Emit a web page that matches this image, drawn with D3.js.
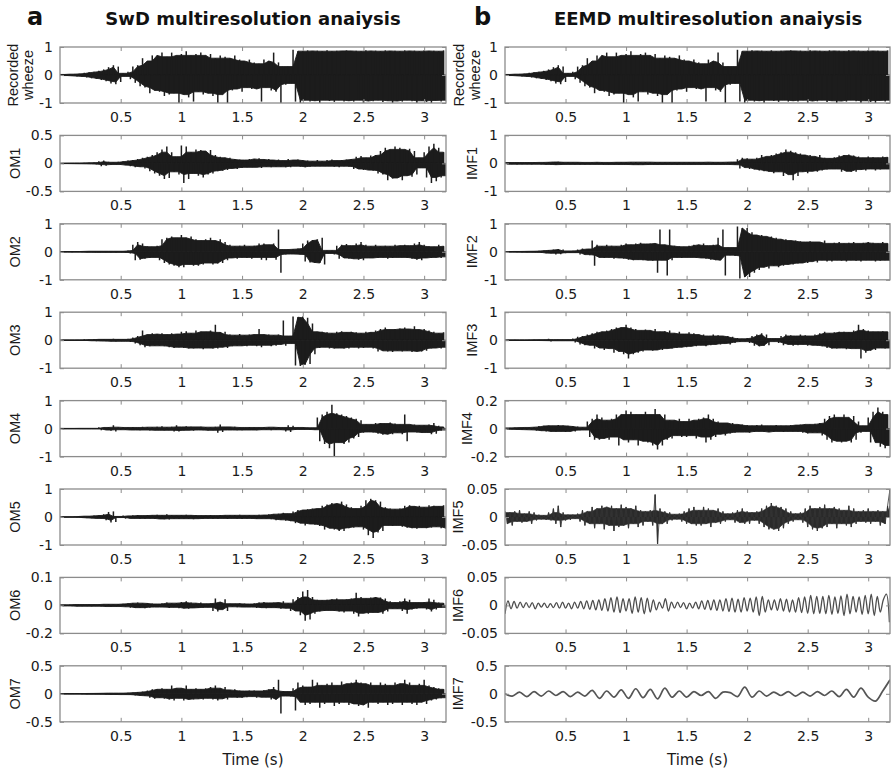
<!DOCTYPE html>
<html>
<head>
<meta charset="utf-8">
<script src="https://cdn.jsdelivr.net/npm/d3@7"></script>
<style>
  body { margin: 0; background: #fff; }
  svg { display: block; }
</style>
</head>
<body>
<svg id="chart" width="891" height="770"></svg>
<script>
// ---- time axis ----
const timeMax = 3.18;
const timeTicks = [0.5, 1, 1.5, 2, 2.5, 3];
const timeTickLabels = ["0.5", "1", "1.5", "2", "2.5", "3"];

// ---- signals: alternating peak / trough samples, one every `step` seconds from t = 0 ----
const recorded = [
  .02,-.02,.03,-.03,.03,-.04,.04,-.05,.05,-.06,
  .08,-.09,.1,-.12,.12,-.14,.15,-.18,.2,-.22,
  .28,-.3,.35,-.33,.3,-.25,.06,-.05,.12,-.15,
  .3,-.28,.35,-.4,.6,-.45,.5,-.65,.7,-.55,
  .7,-.6,.8,-.75,.65,-.7,.8,-.65,.7,-1,
  .75,-.7,.85,-.8,.7,-.95,.75,-.6,.8,-.7,
  .7,-.65,.75,-.75,.6,-1,.7,-.7,.65,-1,
  .6,-.55,.7,-.5,.55,-.6,.5,-.45,.55,-.5,
  .45,-.5,.4,-.95,.55,-.45,.5,-.55,.8,-.6,
  .45,-1,.3,-.35,.3,-.3,.9,-.95,.85,-1,
  .85,-.9,.88,-.95,.86,-.92,.87,-1,.85,-.9,
  .88,-.93,.85,-.96,.87,-.9,.86,-.95,.88,-.92,
  .86,-.95,.87,-.9,.85,-1,.88,-.93,.86,-.94,
  .87,-.9,.85,-.96,.88,-.92,.86,-1,.87,-.93,
  .85,-.95,.88,-.9,.86,-.94,.87,-1,.85,-.92,
  .88,-.96,.86,-1,.87,-.91,.85,-.95,.88,-.9
];
const om1 = [
  .004,-.004,.005,-.005,.006,-.006,.006,-.007,.008,-.008,
  .01,-.01,.012,-.012,.015,-.02,.04,-.05,.05,-.04,
  .03,-.025,.02,-.02,.03,-.03,.04,-.035,.05,-.05,
  .06,-.07,.08,-.06,.1,-.09,.12,-.14,.15,-.18,
  .2,-.22,.25,-.28,.3,-.26,.2,-.15,.12,-.2,
  .32,-.35,.3,-.28,.2,-.18,.25,-.22,.24,-.25,
  .22,-.2,.24,-.18,.15,-.14,.12,-.13,.1,-.12,
  .1,-.09,.08,-.1,.07,-.08,.06,-.07,.08,-.07,
  .08,-.07,.09,-.08,.07,-.06,.08,-.07,.06,-.06,
  .07,-.06,.05,-.07,.08,-.07,.06,-.05,.07,-.06,
  .06,-.07,.05,-.06,.04,-.05,.06,-.05,.04,-.05,
  .06,-.05,.07,-.06,.05,-.07,.06,-.05,.07,-.06,
  .08,-.1,.12,-.1,.13,-.12,.1,-.12,.14,-.13,
  .15,-.18,.22,-.2,.28,-.3,.25,-.27,.3,-.26,
  .28,-.3,.25,-.22,.26,-.24,.22,-.2,.1,-.08,
  .2,-.25,.3,-.35,.35,-.32,.28,-.25,.2,-.22
];
const om2 = [
  .008,-.008,.01,-.01,.012,-.012,.01,-.01,.015,-.015,
  .02,-.015,.02,-.02,.025,-.02,.02,-.02,.025,-.02,
  .02,-.02,.025,-.025,.02,-.02,.03,-.03,.05,-.06,
  .25,-.3,.35,-.28,.3,-.25,.2,-.22,.18,-.2,
  .22,-.3,.45,-.4,.5,-.45,.55,-.5,.5,-.55,
  .6,-.55,.5,-.45,.55,-.5,.45,-.5,.4,-.45,
  .45,-.4,.5,-.45,.4,-.42,.45,-.4,.35,-.3,
  .25,-.22,.2,-.25,.22,-.2,.25,-.22,.2,-.25,
  .22,-.2,.3,-.28,.3,-.3,.25,-.2,.3,-.28,
  .8,-.75,.08,-.1,.09,-.08,.1,-.09,.12,-.1,
  .3,-.35,.4,-.38,.42,-.4,.45,-.4,.5,-.45,
  .05,-.06,.05,-.1,.22,-.25,.25,-.22,.28,-.25,
  .22,-.25,.3,-.28,.35,-.3,.25,-.22,.2,-.22,
  .25,-.22,.2,-.2,.22,-.25,.2,-.22,.25,-.2,
  .22,-.2,.25,-.22,.22,-.25,.3,-.28,.35,-.3,
  .25,-.22,.2,-.22,.18,-.2,.25,-.22,.2,-.18
];
const om3 = [
  .005,-.005,.005,-.006,.006,-.006,.008,-.008,.01,-.01,
  .03,-.03,.02,-.02,.04,-.04,.03,-.03,.04,-.04,
  .03,-.04,.05,-.05,.04,-.04,.03,-.04,.05,-.06,
  .1,-.12,.15,-.18,.35,-.25,.2,-.22,.25,-.2,
  .22,-.2,.25,-.22,.2,-.25,.25,-.28,.22,-.25,
  .3,-.28,.32,-.3,.25,-.3,.35,-.28,.3,-.32,
  .3,-.28,.35,-.3,.55,-.3,.28,-.25,.3,-.28,
  .2,-.22,.18,-.2,.22,-.2,.18,-.22,.2,-.18,
  .2,-.22,.4,-.25,.2,-.18,.2,-.22,.18,-.2,
  .2,-.15,.7,-.2,.15,-.12,.85,-.9,.82,-.92,
  .85,-.88,.8,-.85,.6,-.5,.3,-.28,.3,-.25,
  .28,-.3,.25,-.3,.3,-.28,.32,-.3,.28,-.3,
  .3,-.25,.28,-.3,.25,-.28,.3,-.25,.28,-.3,
  .35,-.4,.4,-.38,.45,-.4,.38,-.42,.4,-.38,
  .42,-.4,.45,-.38,.4,-.42,.5,-.4,.38,-.4,
  .4,-.38,.35,-.3,.3,-.28,.25,-.3,.28,-.25
];
const om4 = [
  .01,-.01,.01,-.01,.008,-.008,.01,-.01,.01,-.01,
  .01,-.01,.01,-.01,.01,-.01,.05,-.06,.04,-.05,
  .06,-.08,.12,-.1,.05,-.04,.06,-.05,.04,-.05,
  .06,-.05,.04,-.06,.07,-.05,.06,-.07,.05,-.06,
  .07,-.06,.08,-.07,.05,-.06,.07,-.1,.12,-.1,
  .06,-.07,.08,-.06,.07,-.08,.06,-.05,.07,-.06,
  .06,-.07,.05,-.06,.07,-.15,.15,-.12,.06,-.05,
  .06,-.05,.07,-.06,.05,-.06,.04,-.05,.06,-.05,
  .05,-.06,.04,-.05,.06,-.04,.05,-.06,.05,-.04,
  .06,-.05,.04,-.1,.12,-.12,.1,-.05,.04,-.03,
  .04,-.03,.04,-.04,.03,-.04,.4,-.45,.5,-.55,
  .6,-.7,.85,-1,.55,-.5,.5,-.55,.45,-.5,
  .4,-.35,.35,-.3,.3,-.15,.15,-.12,.15,-.14,
  .2,-.18,.2,-.22,.18,-.2,.22,-.2,.18,-.15,
  .15,-.2,.5,-.45,.15,-.12,.15,-.14,.12,-.15,
  .12,-.14,.15,-.2,.2,-.18,.1,-.08,.06,-.05
];
const om5 = [
  .002,-.002,.003,-.003,.003,-.003,.02,-.02,.03,-.03,
  .03,-.04,.04,-.05,.05,-.05,.06,-.06,.1,-.12,
  .18,-.2,.2,-.18,.02,-.02,.05,-.06,.04,-.05,
  .06,-.05,.07,-.06,.05,-.06,.07,-.05,.06,-.07,
  .08,-.07,.06,-.08,.1,-.09,.07,-.06,.06,-.07,
  .07,-.06,.08,-.07,.06,-.08,.07,-.06,.05,-.06,
  .06,-.05,.07,-.06,.05,-.06,.07,-.05,.06,-.07,
  .06,-.05,.07,-.06,.08,-.07,.06,-.05,.07,-.06,
  .06,-.07,.08,-.06,.07,-.06,.1,-.08,.1,-.12,
  .12,-.1,.15,-.13,.12,-.15,.2,-.22,.25,-.22,
  .25,-.3,.28,-.25,.3,-.28,.3,-.32,.4,-.45,
  .45,-.4,.5,-.45,.48,-.5,.55,-.5,.45,-.4,
  .35,-.38,.3,-.35,.4,-.45,.6,-.65,.65,-.75,
  .6,-.55,.55,-.5,.35,-.3,.3,-.32,.28,-.3,
  .3,-.35,.4,-.38,.42,-.4,.38,-.42,.4,-.38,
  .35,-.4,.42,-.38,.4,-.35,.38,-.4,.42,-.4
];
const om6 = [
  .002,-.002,.002,-.002,.003,-.003,.003,-.003,.003,-.003,
  .003,-.003,.004,-.004,.003,-.003,.004,-.004,.004,-.004,
  .005,-.005,.004,-.004,.005,-.005,.006,-.005,.008,-.008,
  .009,-.008,.01,-.009,.008,-.01,.009,-.008,.007,-.006,
  .005,-.006,.008,-.007,.01,-.009,.008,-.007,.009,-.01,
  .012,-.01,.015,-.012,.01,-.009,.008,-.009,.01,-.008,
  .006,-.007,.008,-.02,.025,-.022,.012,-.015,.022,-.02,
  .006,-.005,.006,-.007,.008,-.006,.007,-.006,.005,-.006,
  .008,-.009,.01,-.008,.012,-.01,.009,-.008,.01,-.009,
  .01,-.012,.015,-.01,.008,-.02,.022,-.02,.03,-.035,
  .05,-.055,.055,-.05,.03,-.03,.02,-.022,.018,-.02,
  .02,-.018,.022,-.02,.025,-.022,.02,-.025,.022,-.02,
  .025,-.03,.045,-.04,.03,-.028,.025,-.03,.028,-.025,
  .03,-.025,.028,-.03,.025,-.022,.015,-.012,.01,-.012,
  .015,-.02,.025,-.03,.02,-.015,.01,-.012,.01,-.009,
  .012,-.015,.025,-.022,.02,-.015,.01,-.008,.008,-.007
];
const om7 = [
  .003,-.003,.003,-.004,.004,-.004,.005,-.005,.005,-.006,
  .006,-.006,.007,-.007,.008,-.008,.01,-.01,.012,-.012,
  .012,-.012,.015,-.015,.012,-.014,.015,-.015,.02,-.02,
  .025,-.03,.03,-.035,.04,-.04,.06,-.07,.08,-.09,
  .08,-.07,.1,-.09,.08,-.1,.15,-.12,.1,-.08,
  .1,-.12,.15,-.1,.08,-.1,.1,-.09,.08,-.1,
  .1,-.08,.12,-.1,.15,-.12,.1,-.09,.12,-.1,
  .07,-.06,.08,-.07,.06,-.07,.05,-.06,.06,-.05,
  .06,-.07,.05,-.06,.07,-.06,.08,-.1,.12,-.1,
  .25,-.35,.05,-.04,.04,-.05,.1,-.3,.2,-.15,
  .15,-.2,.12,-.18,.25,-.15,.2,-.25,.15,-.18,
  .18,-.15,.2,-.22,.15,-.18,.22,-.15,.18,-.2,
  .2,-.18,.25,-.22,.2,-.2,.18,-.25,.2,-.15,
  .15,-.18,.2,-.15,.18,-.2,.15,-.18,.2,-.15,
  .18,-.2,.25,-.15,.2,-.18,.15,-.2,.18,-.15,
  .25,-.18,.15,-.12,.12,-.1,.1,-.08,.08,-.07
];
const imf1 = [
  .03,-.03,.035,-.03,.03,-.035,.03,-.03,.035,-.03,
  .03,-.035,.04,-.03,.035,-.04,.04,-.035,.05,-.045,
  .05,-.055,.06,-.05,.05,-.04,.04,-.035,.04,-.04,
  .04,-.035,.04,-.04,.035,-.04,.04,-.035,.04,-.04,
  .04,-.04,.035,-.04,.045,-.04,.04,-.045,.04,-.04,
  .045,-.05,.05,-.045,.05,-.05,.045,-.05,.05,-.045,
  .045,-.04,.05,-.045,.04,-.05,.045,-.04,.045,-.04,
  .04,-.045,.04,-.04,.045,-.04,.04,-.045,.04,-.04,
  .04,-.045,.05,-.04,.045,-.04,.05,-.045,.04,-.05,
  .045,-.04,.05,-.045,.05,-.05,.15,-.18,.2,-.15,
  .18,-.2,.15,-.22,.2,-.25,.3,-.28,.25,-.3,
  .3,-.35,.35,-.3,.4,-.45,.5,-.4,.45,-.6,
  .4,-.45,.35,-.3,.3,-.35,.3,-.28,.25,-.3,
  .3,-.25,.2,-.22,.18,-.2,.22,-.2,.28,-.3,
  .3,-.28,.32,-.3,.28,-.3,.25,-.22,.2,-.25,
  .25,-.2,.22,-.25,.2,-.22,.25,-.2,.22,-.2
];
const imf2 = [
  .01,-.01,.012,-.01,.012,-.012,.015,-.015,.018,-.015,
  .02,-.02,.025,-.02,.04,-.045,.05,-.05,.06,-.05,
  .08,-.1,.1,-.09,.08,-.05,.03,-.03,.04,-.03,
  .08,-.1,.12,-.1,.1,-.12,.4,-.5,.25,-.2,
  .2,-.22,.25,-.2,.22,-.25,.2,-.22,.25,-.25,
  .3,-.28,.25,-.3,.3,-.28,.32,-.3,.28,-.3,
  .3,-.32,.3,-.75,.8,-.3,.25,-.85,.8,-.3,
  .22,-.2,.2,-.22,.18,-.2,.22,-.2,.25,-.22,
  .25,-.22,.3,-.25,.22,-.28,.25,-.3,.5,-.3,
  .8,-.85,.15,-.12,.15,-.15,.9,-.95,.85,-.9,
  .85,-.9,.7,-.75,.6,-.65,.6,-.55,.55,-.6,
  .55,-.5,.5,-.55,.45,-.5,.45,-.45,.4,-.45,
  .4,-.42,.38,-.4,.35,-.4,.38,-.35,.35,-.38,
  .35,-.3,.4,-.35,.3,-.35,.32,-.3,.35,-.32,
  .3,-.35,.32,-.3,.35,-.32,.3,-.35,.32,-.3,
  .35,-.3,.32,-.35,.3,-.32,.35,-.3,.3,-.32
];
const imf3 = [
  .01,-.01,.01,-.01,.012,-.01,.01,-.012,.01,-.01,
  .012,-.01,.015,-.012,.015,-.015,.02,-.018,.05,-.05,
  .02,-.02,.025,-.02,.02,-.025,.02,-.02,.06,-.08,
  .12,-.15,.15,-.18,.2,-.18,.25,-.3,.3,-.28,
  .3,-.35,.35,-.3,.4,-.45,.45,-.4,.45,-.5,
  .55,-.65,.45,-.5,.4,-.45,.35,-.4,.38,-.35,
  .35,-.38,.4,-.35,.3,-.35,.32,-.3,.35,-.3,
  .25,-.28,.3,-.25,.22,-.25,.28,-.22,.25,-.22,
  .2,-.18,.2,-.22,.15,-.18,.2,-.15,.18,-.15,
  .15,-.12,.15,-.15,.12,-.1,.08,-.06,.05,-.05,
  .08,-.1,.15,-.2,.2,-.22,.25,-.2,.2,-.18,
  .06,-.05,.06,-.1,.15,-.18,.2,-.15,.18,-.2,
  .15,-.18,.2,-.15,.18,-.2,.15,-.18,.2,-.2,
  .25,-.22,.3,-.28,.25,-.3,.28,-.3,.3,-.28,
  .3,-.32,.28,-.3,.35,-.3,.55,-.65,.4,-.45,
  .35,-.38,.3,-.35,.3,-.28,.32,-.3,.3,-.28
];
const imf4 = [
  .005,-.005,.006,-.006,.007,-.007,.008,-.008,.008,-.009,
  .01,-.01,.012,-.015,.018,-.015,.02,-.02,.022,-.02,
  .02,-.022,.025,-.02,.022,-.025,.02,-.02,.018,-.02,
  .015,-.012,.01,-.01,.05,-.06,.07,-.08,.1,-.08,
  .08,-.07,.06,-.08,.07,-.06,.1,-.12,.1,-.08,
  .13,-.1,.12,-.08,.1,-.12,.1,-.09,.12,-.1,
  .1,-.12,.14,-.15,.1,-.12,.1,-.08,.06,-.07,
  .06,-.05,.07,-.06,.05,-.06,.07,-.05,.06,-.07,
  .07,-.06,.08,-.1,.1,-.08,.07,-.06,.05,-.04,
  .04,-.05,.04,-.035,.04,-.03,.03,-.025,.03,-.025,
  .025,-.03,.02,-.025,.025,-.02,.03,-.025,.02,-.025,
  .02,-.025,.025,-.02,.02,-.025,.02,-.02,.025,-.02,
  .025,-.02,.03,-.03,.03,-.035,.03,-.03,.035,-.03,
  .04,-.05,.07,-.08,.09,-.1,.1,-.09,.08,-.1,
  .1,-.09,.08,-.1,.09,-.08,.05,-.03,.02,-.02,
  .08,-.1,.12,-.1,.15,-.13,.12,-.14,.1,-.12
];
const imf5 = [
  .01,-.012,.008,-.015,.01,-.008,.012,-.01,.006,-.008,
  .01,-.012,.008,-.006,.004,-.004,.003,-.005,.008,-.006,
  .015,-.012,.02,-.018,.008,-.006,.004,-.005,.004,-.003,
  .006,-.008,.012,-.015,.01,-.012,.018,-.02,.015,-.012,
  .02,-.022,.018,-.015,.02,-.025,.015,-.018,.022,-.015,
  .018,-.02,.015,-.012,.02,-.018,.012,-.015,.01,-.008,
  .012,-.015,.04,-.048,.015,-.012,.01,-.012,.008,-.006,
  .005,-.004,.006,-.008,.01,-.012,.015,-.012,.018,-.015,
  .012,-.015,.018,-.012,.015,-.018,.012,-.01,.015,-.012,
  .01,-.008,.006,-.005,.008,-.01,.012,-.01,.015,-.012,
  .01,-.012,.008,-.006,.01,-.012,.015,-.018,.02,-.022,
  .025,-.022,.02,-.025,.018,-.02,.015,-.012,.01,-.008,
  .006,-.005,.008,-.01,.015,-.018,.02,-.022,.015,-.025,
  .018,-.02,.022,-.018,.015,-.012,.018,-.02,.015,-.012,
  .012,-.015,.02,-.018,.015,-.012,.01,-.008,.012,-.01,
  .015,-.012,.01,-.008,.012,-.015,.01,-.012,.02,.05
];
const imf6 = [
  -.015,.008,-.006,.007,-.005,.006,-.004,.005,
  -.004,.005,-.006,.004,-.003,.004,-.004,.003,
  -.004,.005,-.005,.006,-.005,.004,-.006,.006,
  -.005,.007,-.006,.008,-.007,.009,-.008,.01,
  -.009,.012,-.01,.014,-.012,.015,-.013,.012,
  -.01,.012,-.014,.015,-.012,.014,-.015,.013,
  -.012,.01,-.008,.006,-.005,.012,-.01,.006,
  -.005,.006,-.004,.005,-.006,.004,-.005,.006,
  -.006,.008,-.007,.009,-.008,.01,-.009,.01,
  -.01,.012,-.011,.013,-.012,.011,-.012,.014,
  -.01,.013,-.012,.015,-.018,.016,-.012,.01,
  -.008,.01,-.009,.012,-.01,.011,-.012,.01,
  -.012,.014,-.013,.015,-.014,.018,-.015,.016,
  -.014,.016,-.015,.018,-.016,.015,-.014,.017,
  -.018,.02,-.015,.016,-.012,.015,-.016,.018,
  -.015,.02,-.018,.016,-.012,.01,.02,-.03
];
const imf7 = [
  0,-.04,.03,-.05,.04,-.04,.05,-.03,.04,-.05,
  .03,-.04,.06,-.08,.05,-.06,.07,-.08,.09,-.07,
  .08,-.09,.1,-.06,.05,-.06,.04,-.03,.04,-.08,
  .03,.02,-.05,.12,-.06,.05,-.04,.03,-.03,.04,
  -.04,.03,-.04,.04,-.03,.05,-.05,.08,-.06,.1,
  -.06,-.13,.05,.25
];

// ---- panel definitions ----
const leftSeries = [recorded, om1, om2, om3, om4, om5, om6, om7];
const leftNames = [["Recorded", "wheeze"], ["OM1"], ["OM2"], ["OM3"], ["OM4"], ["OM5"], ["OM6"], ["OM7"]];
const leftLimits = [1, 0.5, 1, 1, 1, 1, 0.1, 0.5];
const leftTickLabels = [
  ["1", "0", "-1"], ["0.5", "0", "-0.5"], ["1", "0", "-1"], ["1", "0", "-1"],
  ["1", "0", "-1"], ["1", "0", "-1"], ["0.1", "0", "-0.2"], ["0.5", "0", "-0.5"]
];
const leftSteps = [0.02, 0.02, 0.02, 0.02, 0.02, 0.02, 0.02, 0.02];

const rightSeries = [recorded, imf1, imf2, imf3, imf4, imf5, imf6, imf7];
const rightNames = [["Recorded", "wheeze"], ["IMF1"], ["IMF2"], ["IMF3"], ["IMF4"], ["IMF5"], ["IMF6"], ["IMF7"]];
const rightLimits = [1, 1, 1, 1, 0.2, 0.05, 0.05, 0.5];
const rightTickLabels = [
  ["1", "0", "-1"], ["1", "0", "-1"], ["1", "0", "-1"], ["1", "0", "-1"],
  ["0.2", "0", "-0.2"], ["0.05", "0", "-0.05"], ["0.05", "0", "-0.05"], ["0.5", "0", "-0.5"]
];
const rightSteps = [0.02, 0.02, 0.02, 0.02, 0.02, 0.02, 0.025, 0.06];

const titles = ["SwD multiresolution anaiysis", "EEMD multiresolution anaiysis"];
const panelLetters = ["a", "b"];
const xAxisTitle = "Time (s)";

// ---- layout ----
const layout = [
  { x0: 60, x1: 446, titleX: 253, letterX: 27, labelX: [[13, 28], 15, 15, 15, 15, 15, 15, 15] },
  { x0: 505, x1: 890, titleX: 708, letterX: 474, labelX: [[459, 475], 472, 472, 472, 467, 458, 458, 458] }
];
const rowTop0 = 47, rowGap = 88.4, panelH = 56;

// Dense oscillations: a solid core (the lowest of each peak and its neighbours on the same side)
// with every individual peak / trough drawn as a thin spike on top of it.
const denseStyle = { kind: "dense", fill: "#1c1c1c", spikeColor: "#1c1c1c", spike: 1.5, edge: 0.9, reach: 1 };
const rightStyles = [denseStyle, denseStyle, denseStyle, denseStyle, denseStyle,
  { kind: "dense", fill: "#2a2a2a", spikeColor: "#333", spike: 1.2, edge: 0.6, reach: 1, trace: 0.8 },
  { kind: "line", stroke: "#4d4d4d", width: 1.3, curve: d3.curveCatmullRom },
  { kind: "line", stroke: "#555", width: 1.7, curve: d3.curveCatmullRom }];

const svg = d3.select("#chart");
const tickFont = "'DejaVu Sans', Verdana, sans-serif";
const labelFont = "'Liberation Sans', Arial, Helvetica, sans-serif";
const boxColor = "#8c8c8c";

function coreOf(part, reach) {
  return part.map((d, k) => {
    let mag = Math.abs(d.v);
    for (let j = Math.max(0, k - reach); j <= Math.min(part.length - 1, k + reach); j++) {
      mag = Math.min(mag, Math.abs(part[j].v));
    }
    return { t: d.t, v: Math.sign(d.v) * mag };
  });
}

function drawColumn(ci, series, names, limits, tickLabels, steps, styles) {
  const L = layout[ci];
  const w = L.x1 - L.x0;
  const x = d3.scaleLinear().domain([0, timeMax]).range([0, w]);

  svg.append("text")
    .attr("x", L.letterX).attr("y", 25)
    .attr("font-family", tickFont).attr("font-weight", "bold").attr("font-size", 24)
    .attr("fill", "#111").text(panelLetters[ci]);
  svg.append("text")
    .attr("x", L.titleX).attr("y", 25).attr("text-anchor", "middle")
    .attr("font-family", tickFont).attr("font-weight", "bold").attr("font-size", 18)
    .attr("fill", "#111").text(titles[ci]);

  series.forEach((vals, i) => {
    const top = rowTop0 + rowGap * i;
    const m = limits[i];
    const y = d3.scaleLinear().domain([-m, m]).range([panelH, 0]);
    const g = svg.append("g").attr("transform", `translate(${L.x0},${top})`);
    const clipId = `clip-${ci}-${i}`;
    g.append("clipPath").attr("id", clipId)
      .append("rect").attr("width", w).attr("height", panelH);
    const plot = g.append("g").attr("clip-path", `url(#${clipId})`);

    const st = styles[i];
    const pts = vals.map((v, k) => ({ t: k * steps[i], v }));
    if (st.kind === "dense") {
      const area = d3.area().x(d => x(d.t)).y0(y(0)).y1(d => y(d.v));
      const peaks = pts.filter(d => d.v >= 0);
      const troughs = pts.filter(d => d.v < 0);
      [peaks, troughs].forEach(part => {
        plot.append("path").datum(coreOf(part, st.reach))
          .attr("fill", st.fill).attr("stroke", st.fill)
          .attr("stroke-width", st.edge).attr("stroke-linejoin", "round")
          .attr("d", area);
      });
      plot.append("g").selectAll("line").data(pts).join("line")
        .attr("x1", d => x(d.t)).attr("x2", d => x(d.t))
        .attr("y1", y(0)).attr("y2", d => y(d.v))
        .attr("stroke", st.spikeColor).attr("stroke-width", st.spike);
      if (st.trace) {
        const line = d3.line().x(d => x(d.t)).y(d => y(d.v));
        plot.append("path").datum(pts)
          .attr("fill", "none").attr("stroke", st.spikeColor)
          .attr("stroke-width", st.trace).attr("d", line);
      }
    } else {
      const line = d3.line().x(d => x(d.t)).y(d => y(d.v)).curve(st.curve);
      plot.append("path").datum(pts)
        .attr("fill", "none").attr("stroke", st.stroke)
        .attr("stroke-width", st.width).attr("stroke-linejoin", "round")
        .attr("d", line);
    }

    // axes: inward ticks on all four sides, labels on bottom and left
    const yTicks = [m, 0, -m];
    const bottom = d3.axisBottom(x).tickValues(timeTicks)
      .tickFormat((d, k) => timeTickLabels[k])
      .tickSizeInner(-4).tickSizeOuter(0).tickPadding(9);
    const topAx = d3.axisTop(x).tickValues(timeTicks).tickFormat("")
      .tickSizeInner(-4).tickSizeOuter(0);
    const left = d3.axisLeft(y).tickValues(yTicks)
      .tickFormat((d, k) => tickLabels[i][k])
      .tickSizeInner(-4).tickSizeOuter(0).tickPadding(7);
    const rightAx = d3.axisRight(y).tickValues(yTicks).tickFormat("")
      .tickSizeInner(-4).tickSizeOuter(0);

    const axes = [
      g.append("g").attr("transform", `translate(0,${panelH})`).call(bottom),
      g.append("g").call(topAx),
      g.append("g").call(left),
      g.append("g").attr("transform", `translate(${w},0)`).call(rightAx)
    ];
    axes.forEach(a => {
      a.select(".domain").remove();
      a.selectAll("line").attr("stroke", boxColor);
      a.selectAll("text").attr("font-family", tickFont).attr("font-size", 14).attr("fill", "#1a1a1a");
    });

    g.append("rect").attr("width", w).attr("height", panelH)
      .attr("fill", "none").attr("stroke", boxColor).attr("stroke-width", 1.3);

    // y label (rotated)
    const lx = L.labelX[i];
    const cy = top + panelH / 2;
    names[i].forEach((txt, k) => {
      const px = Array.isArray(lx) ? lx[k] : lx;
      svg.append("text")
        .attr("transform", `translate(${px},${cy}) rotate(-90)`)
        .attr("text-anchor", "middle")
        .attr("dominant-baseline", "central")
        .attr("font-family", labelFont).attr("font-size", 14.5)
        .attr("fill", "#1a1a1a").text(txt);
    });
  });

  svg.append("text")
    .attr("x", L.x0 + w / 2).attr("y", 765).attr("text-anchor", "middle")
    .attr("font-family", tickFont).attr("font-size", 15)
    .attr("fill", "#1a1a1a").text(xAxisTitle);
}

drawColumn(0, leftSeries, leftNames, leftLimits, leftTickLabels, leftSteps,
  leftSeries.map(() => denseStyle));
drawColumn(1, rightSeries, rightNames, rightLimits, rightTickLabels, rightSteps, rightStyles);
</script>
</body>
</html>
